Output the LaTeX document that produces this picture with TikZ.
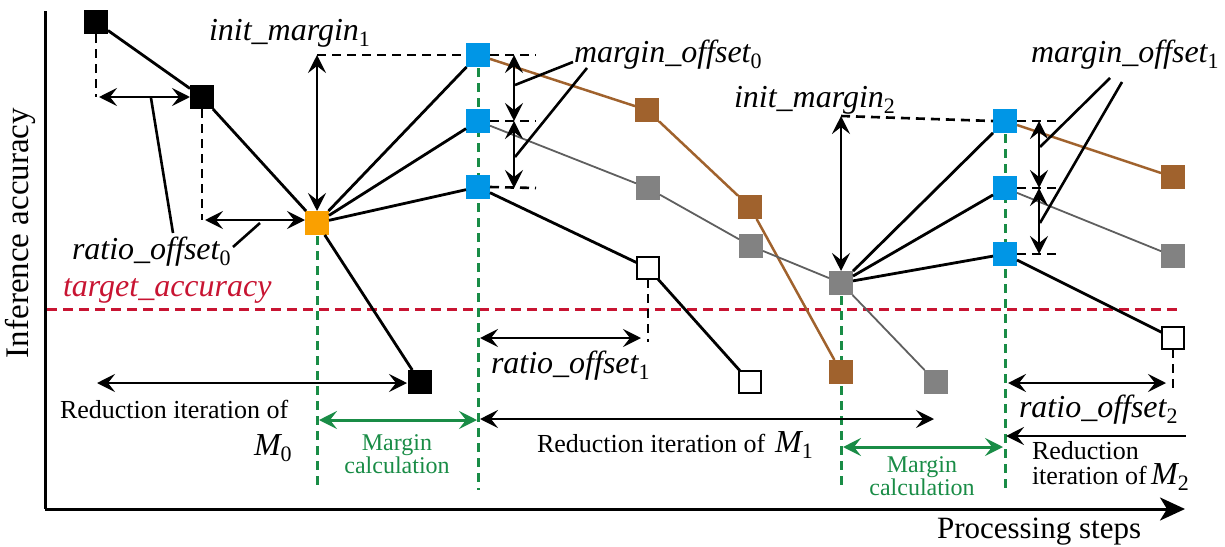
\documentclass[tikz,border=0pt]{standalone}
\usepackage{fontspec}
\setmainfont{Liberation Serif}
\usetikzlibrary{arrows.meta}

\definecolor{sqblue}{RGB}{0,150,230}
\definecolor{sqorange}{RGB}{250,160,0}
\definecolor{sqbrown}{RGB}{160,98,45}
\definecolor{sqgray}{RGB}{130,130,130}
\definecolor{lngray}{RGB}{95,95,95}
\definecolor{guide}{RGB}{25,140,70}
\definecolor{tgt}{RGB}{200,20,50}

% subscript index set below the baseline
\newcommand\lowidx[1]{\raisebox{-6pt}{\fontsize{22}{22}\selectfont\upshape #1}}
\newcommand\ilabel{\fontsize{32}{34}\selectfont\itshape}
\newcommand\rlabel{\fontsize{26}{30}\selectfont}
\newcommand\glabel{\fontsize{24}{24}\selectfont}

\tikzset{
  tip/.tip={Stealth[length=18pt,width=18pt,inset=7pt]},
  sq/.style={rectangle, draw=none, minimum size=24pt, inner sep=0pt, outer sep=0pt},
  sqblack/.style={sq, fill=black},
  sqblu/.style={sq, fill=sqblue},
  sqorg/.style={sq, fill=sqorange},
  sqbrn/.style={sq, fill=sqbrown},
  sqgry/.style={sq, fill=sqgray},
  sqwht/.style={sq, minimum size=22pt, fill=white, draw=black, line width=2.8pt},
  blkline/.style={line width=2.8pt, black},
  brnline/.style={line width=2.5pt, sqbrown},
  gryline/.style={line width=1.8pt, lngray},
  dim/.style={line width=2.8pt, black, tip-tip},
  ldim/.style={line width=2.8pt, black, tip-},
  gdim/.style={line width=3pt, guide, tip-tip},
  blkdash/.style={line width=2.6pt, black, dash pattern=on 9pt off 6pt},
  grndash/.style={line width=3pt, guide, dash pattern=on 9pt off 6pt},
  reddash/.style={line width=3pt, tgt, dash pattern=on 10pt off 6pt},
  leader/.style={line width=2.6pt, black},
  axis/.style={line width=3pt, black},
  lbl/.style={inner sep=0pt, outer sep=0pt},
}

\begin{document}
\begin{tikzpicture}[x=1pt, y=-1pt]
\useasboundingbox (0,0) rectangle (1225,546);

% axes
\coordinate (ytop) at (45,11);
\coordinate (orig) at (45,509);
\coordinate (xend) at (1185,509);
\draw[axis] (ytop) -- (orig);
\draw[axis, -{Stealth[length=25pt,width=23pt,inset=7pt]}] (orig) -- (xend);
\node[lbl, rotate=90, font=\fontsize{33}{36}\selectfont] (ylab) at (20,233) {Inference accuracy};
\node[lbl, anchor=base west, font=\fontsize{31}{34}\selectfont] (xlab) at (937,538) {Processing steps};

% target accuracy
\coordinate (tl) at (47,309);
\coordinate (tr) at (1183,309);
\draw[reddash] (tl) -- (tr);
\node[lbl, anchor=base west, text=tgt] (tacc) at (63,296) {\ilabel target\_accuracy};

% green guides
\coordinate (g1t) at (317,236); \coordinate (g1b) at (317,490);
\coordinate (g2t) at (478,68);  \coordinate (g2b) at (478,490);
\coordinate (g3t) at (841,296); \coordinate (g3b) at (841,490);
\coordinate (g4t) at (1005,134); \coordinate (g4b) at (1005,490);
\draw[grndash] (g1t) -- (g1b);
\draw[grndash] (g2t) -- (g2b);
\draw[grndash] (g3t) -- (g3b);
\draw[grndash] (g4t) -- (g4b);

% squares
\node[sqblack] (a0) at (96,22) {};
\node[sqblack] (a1) at (202,97) {};
\node[sqorg]   (o)  at (317,223) {};
\node[sqblack] (a2) at (420,382) {};
\node[sqblu] (b1) at (478,55) {};
\node[sqblu] (b2) at (478,121) {};
\node[sqblu] (b3) at (478,187) {};
\node[sqbrn] (r1) at (647,110) {};
\node[sqbrn] (r2) at (750,207) {};
\node[sqbrn] (r3) at (841,372) {};
\node[sqgry] (h1) at (648,188) {};
\node[sqgry] (h2) at (751,246) {};
\node[sqgry] (gm) at (841,283) {};
\node[sqgry] (h4) at (936,382) {};
\node[sqwht] (w1) at (648,268) {};
\node[sqwht] (w2) at (750,382) {};
\node[sqblu] (c1) at (1005,121) {};
\node[sqblu] (c2) at (1005,188) {};
\node[sqblu] (c3) at (1005,254) {};
\node[sqbrn] (r4) at (1173,177) {};
\node[sqgry] (h5) at (1173,256) {};
\node[sqwht] (w3) at (1173,338) {};

% trajectories
\draw[blkline] (a0) -- (a1);
\draw[blkline] (a1) -- (o);
\draw[blkline] (o) -- (a2);
\draw[blkline] (o) -- (b1);
\draw[blkline] (o) -- (b2);
\draw[blkline] (o) -- (b3);
\draw[brnline] (b1) -- (r1);
\draw[brnline] (r1) -- (r2);
\draw[brnline] (r2) -- (r3);
\draw[gryline] (b2) -- (h1);
\draw[gryline] (h1) -- (h2);
\draw[gryline] (h2) -- (gm);
\draw[gryline] (gm) -- (h4);
\draw[blkline] (b3) -- (w1);
\draw[blkline] (w1) -- (w2);
\draw[blkline] (gm) -- (c1);
\draw[blkline] (gm) -- (c2);
\draw[blkline] (gm) -- (c3);
\draw[brnline] (c1) -- (r4);
\draw[gryline] (c2) -- (h5);
\draw[blkline] (c3) -- (w3);

% ratio_offset_0
\coordinate (d0a) at (96,97);
\coordinate (d0b) at (202,220);
\draw[blkdash] (a0.south) -- (d0a);
\draw[blkdash] (a1.south) -- (d0b);
\coordinate (r0al) at (99,97);  \coordinate (r0ar) at (190,97);
\coordinate (r0bl) at (205,220); \coordinate (r0br) at (305,220);
\draw[dim] (r0al) -- (r0ar);
\draw[dim] (r0bl) -- (r0br);
\coordinate (l0a) at (151,98);  \coordinate (l0b) at (173,233);
\coordinate (l0c) at (260,223); \coordinate (l0d) at (233,247);
\draw[leader] (l0a) -- (l0b);
\draw[leader] (l0c) -- (l0d);
\node[lbl, anchor=base west] (ro0) at (72,259) {\ilabel ratio\_offset\lowidx{0}};

% init_margin_1
\coordinate (im1t) at (317,55);
\draw[blkdash] (im1t) -- (b1.west);
\draw[dim] (im1t) -- (o.north);
\node[lbl, anchor=base west] (im1) at (209,40) {\ilabel init\_margin\lowidx{1}};

% margin_offset_0
\coordinate (m0a) at (536,55);
\coordinate (m0b) at (536,121);
\coordinate (m0c) at (536,188);
\draw[blkdash] (b1.east) -- (m0a);
\draw[blkdash] (b2.east) -- (m0b);
\draw[blkdash] (b3.east) -- (m0c);
\coordinate (m0x1) at (514,55);
\coordinate (m0x2) at (514,121);
\coordinate (m0x3) at (514,188);
\draw[dim] (m0x1) -- (m0x2);
\draw[dim] (m0x2) -- (m0x3);
\coordinate (lm0a) at (573,62);  \coordinate (lm0b) at (515,85);
\coordinate (lm0c) at (587,68);  \coordinate (lm0d) at (515,157);
\draw[leader] (lm0a) -- (lm0b);
\draw[leader] (lm0c) -- (lm0d);
\node[lbl, anchor=base west] (mo0) at (574,62) {\ilabel margin\_offset\lowidx{0}};

% ratio_offset_1
\coordinate (d1) at (648,342);
\draw[blkdash] (w1.south) -- (d1);
\coordinate (r1l) at (480,338); \coordinate (r1r) at (641,338);
\draw[dim] (r1l) -- (r1r);
\node[lbl, anchor=base west] (ro1) at (491,373) {\ilabel ratio\_offset\lowidx{1}};

% init_margin_2
\coordinate (im2t) at (841,116);
\draw[blkdash] (im2t) -- (c1.west);
\draw[dim] (im2t) -- (gm.north);
\node[lbl, anchor=base west] (im2) at (734,107) {\ilabel init\_margin\lowidx{2}};

% margin_offset_1
\coordinate (m1a) at (1061,121);
\coordinate (m1b) at (1061,188);
\coordinate (m1c) at (1061,254);
\draw[blkdash] (c1.east) -- (m1a);
\draw[blkdash] (c2.east) -- (m1b);
\draw[blkdash] (c3.east) -- (m1c);
\coordinate (m1x1) at (1039,121);
\coordinate (m1x2) at (1039,188);
\coordinate (m1x3) at (1039,254);
\draw[dim] (m1x1) -- (m1x2);
\draw[dim] (m1x2) -- (m1x3);
\coordinate (lm1a) at (1110,78);  \coordinate (lm1b) at (1040,147);
\coordinate (lm1c) at (1122,82);  \coordinate (lm1d) at (1040,223);
\draw[leader] (lm1a) -- (lm1b);
\draw[leader] (lm1c) -- (lm1d);
\node[lbl, anchor=base west] (mo1) at (1031,62) {\ilabel margin\_offset\lowidx{1}};

% ratio_offset_2
\coordinate (d2) at (1173,392);
\draw[blkdash] (w3.south) -- (d2);
\coordinate (r2l) at (1008,383); \coordinate (r2r) at (1166,383);
\draw[dim] (r2l) -- (r2r);
\node[lbl, anchor=base west] (ro2) at (1019,417) {\ilabel ratio\_offset\lowidx{2}};

% reduction iterations
\coordinate (it0l) at (97,383); \coordinate (it0r) at (407,383);
\draw[dim] (it0l) -- (it0r);
\node[lbl, anchor=base west] (it0) at (60,418) {\rlabel Reduction iteration of};
\node[lbl, anchor=base west] (it0m) at (254,455) {\ilabel M\lowidx{0}};

\coordinate (it1l) at (480,419); \coordinate (it1r) at (934,419);
\draw[dim] (it1l) -- (it1r);
\node[lbl, anchor=base west] (it1) at (537,452) {\rlabel Reduction iteration of\hspace{10pt}{\ilabel M\lowidx{1}}};

\coordinate (it2l) at (1006,436); \coordinate (it2r) at (1186,436);
\draw[ldim] (it2l) -- (it2r);
\node[lbl, anchor=base west] (it2) at (1032,459) {\rlabel Reduction};
\node[lbl, anchor=base west] (it2b) at (1032,484) {\rlabel iteration of\,{\ilabel M\lowidx{2}}};

% margin calculations
\coordinate (mc1l) at (319,420); \coordinate (mc1r) at (477,420);
\draw[gdim] (mc1l) -- (mc1r);
\node[lbl, anchor=base, text=guide] (mc1a) at (397,450) {\glabel Margin};
\node[lbl, anchor=base, text=guide] (mc1b) at (397,473) {\glabel calculation};

\coordinate (mc2l) at (843,447); \coordinate (mc2r) at (1003,447);
\draw[gdim] (mc2l) -- (mc2r);
\node[lbl, anchor=base, text=guide] (mc2a) at (922,472) {\glabel Margin};
\node[lbl, anchor=base, text=guide] (mc2b) at (922,495) {\glabel calculation};
\end{tikzpicture}
\end{document}
